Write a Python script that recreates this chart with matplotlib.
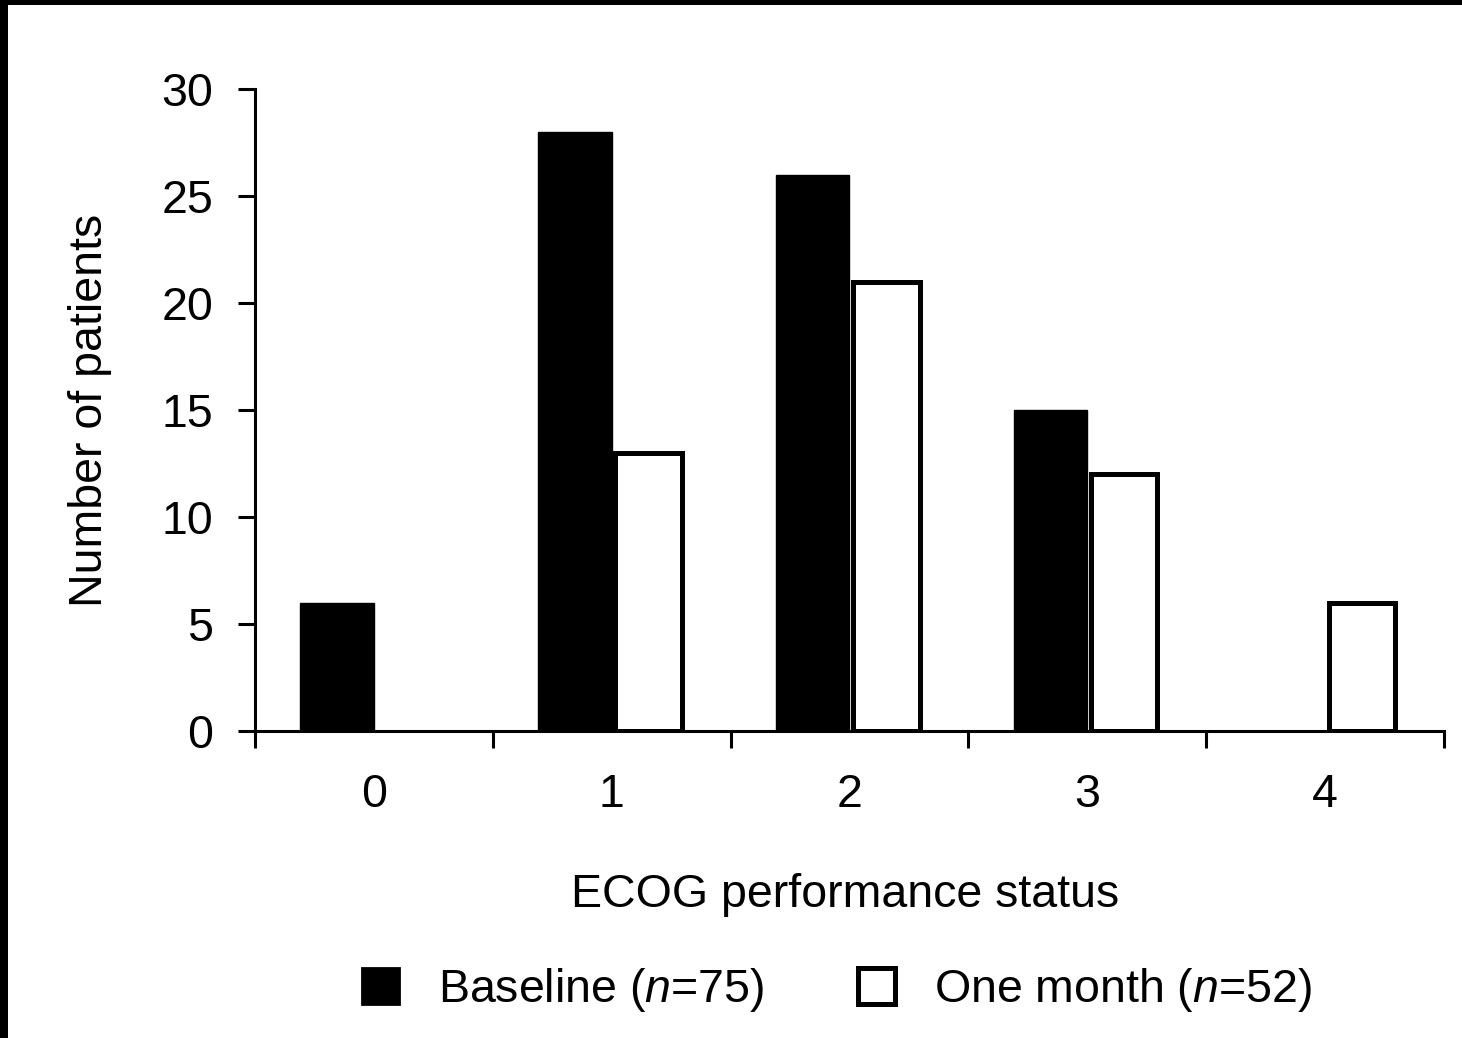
import matplotlib
matplotlib.use("Agg")
import matplotlib.pyplot as plt
from matplotlib.patches import Patch, Rectangle
import numpy as np

plt.rcParams['font.family'] = ['Liberation Sans', 'DejaVu Sans']
plt.rcParams['mathtext.fontset'] = 'custom'
plt.rcParams['mathtext.it'] = 'Liberation Sans:italic'
plt.rcParams['mathtext.rm'] = 'Liberation Sans'

# ECOG performance status counts
categories = ["0", "1", "2", "3", "4"]
baseline = [6, 28, 26, 15, 0]
one_month = [0, 13, 21, 12, 6]
yticks = [0, 5, 10, 15, 20, 25, 30]

FS = 33.5

fig = plt.figure(figsize=(14.62, 10.38), dpi=100)
ax = fig.add_axes([0.1744, 0.2958, 0.8133, 0.6185])

x = np.arange(len(categories))
w = 0.31
ax.bar(x - w / 2, baseline, width=w, color="black", edgecolor="black",
       linewidth=[1 if v > 0 else 0 for v in baseline])
ax.bar(x + w / 2, one_month, width=w * 0.9, color="white", edgecolor="black",
       linewidth=[3.6 if v > 0 else 0 for v in one_month])

ax.set_xlim(-0.5, 4.5)
ax.set_ylim(0, 30)
for s in ("top", "right"):
    ax.spines[s].set_visible(False)
for s in ("left", "bottom"):
    ax.spines[s].set_linewidth(2.2)

# Boundary ticks between groups, labels at group centres
ax.set_xticks(np.arange(-0.5, 5.0, 1.0))
ax.set_xticklabels([])
ax.set_xticks(x, minor=True)
ax.set_xticklabels(categories, minor=True, fontsize=FS)
ax.tick_params(axis="x", which="major", length=12, width=2.2, direction="out")
ax.tick_params(axis="x", which="minor", length=0, pad=30)
ax.set_yticks(yticks)
ax.set_yticklabels([str(v) for v in yticks], fontsize=FS)
ax.tick_params(axis="y", length=12, width=2.2, direction="out", pad=18)

fig.text(90 / 1462, 1 - 410 / 1038, "Number of patients", rotation=90,
         ha="center", va="center", fontsize=FS)
fig.text(845 / 1462, 1 - 895 / 1038, "ECOG performance status",
         ha="center", va="center", fontsize=FS)

handles = [Patch(facecolor="black", edgecolor="black", linewidth=2),
           Patch(facecolor="white", edgecolor="black", linewidth=3.6)]
labels = [r"Baseline ($n$=75)", r"One month ($n$=52)"]
fig.legend(handles, labels, loc="center", bbox_to_anchor=(837 / 1462, 1 - 990 / 1038),
           ncol=2, frameon=False, fontsize=FS, handlelength=0.8, handleheight=0.8,
           handletextpad=0.85, columnspacing=2.0)

# Dark edges along the top and left of the page
fig.patches.append(Rectangle((0, 1 - 5 / 1038), 1, 5 / 1038, transform=fig.transFigure,
                             facecolor="black", edgecolor="none"))
fig.patches.append(Rectangle((0, 0), 8 / 1462, 1, transform=fig.transFigure,
                             facecolor="black", edgecolor="none"))

fig.savefig("out.png", dpi=100)
